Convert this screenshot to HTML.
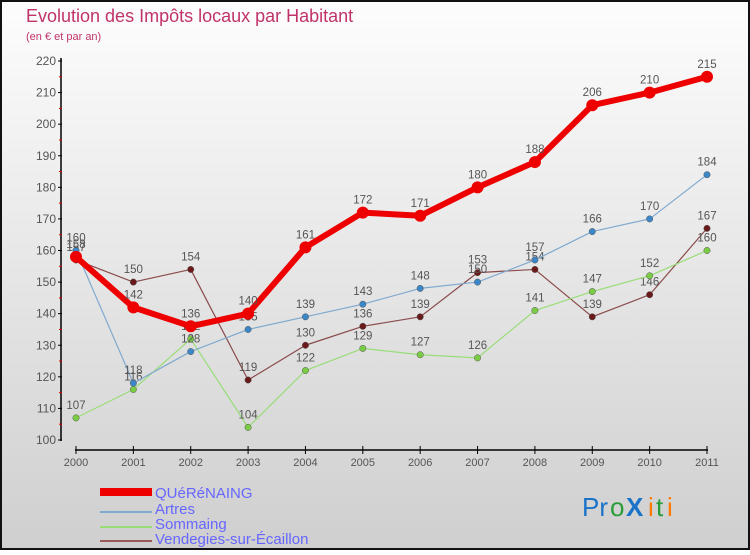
<!DOCTYPE html>
<html><head><meta charset="utf-8"><style>
body{margin:0}
#c{width:750px;height:550px;position:relative;font-family:"Liberation Sans",sans-serif}
</style></head><body>
<div id="c">
<svg id="s" width="750" height="550" xmlns="http://www.w3.org/2000/svg">
<defs><linearGradient id="bg" x1="0" y1="0" x2="0" y2="1"><stop offset="0" stop-color="#fdfdfd"/><stop offset="1" stop-color="#cfcfcf"/></linearGradient></defs>
<rect x="1" y="1" width="748" height="548" fill="url(#bg)" stroke="#111" stroke-width="2"/>
<text x="26" y="22" font-size="18" fill="#c0336a">Evolution des Impôts locaux par Habitant</text>
<text x="26" y="40" font-size="11" fill="#c0336a">(en € et par an)</text>
<g id="axes"></g><g id="series"></g>
<g>
<rect x="100" y="488" width="52" height="8" fill="#e00"/>
<text x="155" y="498" font-size="15" fill="#6666ff">QUéRéNAING</text>
<line x1="100" y1="512" x2="152" y2="512" stroke="#7fa9cf" stroke-width="2"/>
<text x="155" y="514" font-size="15" fill="#6666ff">Artres</text>
<line x1="100" y1="527" x2="152" y2="527" stroke="#99dd77" stroke-width="2"/>
<text x="155" y="529" font-size="15" fill="#6666ff">Sommaing</text>
<line x1="100" y1="541" x2="152" y2="541" stroke="#9a5a5a" stroke-width="2"/>
<text x="155" y="544" font-size="15" fill="#6666ff">Vendegies-sur-Écaillon</text>
</g>
<g font-size="26">
<text x="582" y="516" fill="#1a73c8">Pr</text><text x="610" y="516" fill="#2a9d3a">o</text><text x="626" y="516" fill="#1a73c8" font-weight="bold">X</text><text x="648" y="516" fill="#ff7a00">i</text><text x="656" y="516" fill="#2a9d3a">t</text><text x="667" y="516" fill="#ff7a00">i</text>
</g>
</svg></div>
<script>
const years=[2000,2001,2002,2003,2004,2005,2006,2007,2008,2009,2010,2011];
const yTicks=[100,110,120,130,140,150,160,170,180,190,200,210,220];
const querenaing=[158,142,136,140,161,172,171,180,188,206,210,215];
const artres=[160,118,128,135,139,143,148,150,157,166,170,184];
const sommaing=[107,116,132,104,122,129,127,126,141,147,152,160];
const vendegies=[157,150,154,119,130,136,139,153,154,139,146,167];
const NS="http://www.w3.org/2000/svg";
function X(i){return 76+i*(707-76)/11;}
function Y(v){return 440-(v-100)*(440-61)/120;}
function mk(t,a,p){const e=document.createElementNS(NS,t);for(const k in a)e.setAttribute(k,a[k]);p.appendChild(e);return e;}
const ax=document.getElementById('axes');
let l=mk('line',{x1:61,y1:58,x2:61,y2:441,stroke:'#000','stroke-width':1.5},ax);


yTicks.forEach(v=>{
 mk('line',{x1:58,y1:Y(v),x2:62,y2:Y(v),stroke:'#000'},ax);
 if(v<220)mk('line',{x1:59,y1:Y(v+5),x2:62,y2:Y(v+5),stroke:'#d00'},ax);
 const t=mk('text',{x:56,y:Y(v)+4,'text-anchor':'end','font-size':12,fill:'#555'},ax);
 t.textContent=v;
 
 
});
l=mk('line',{x1:75,y1:450,x2:708,y2:450,stroke:'#000','stroke-width':1.5},ax);


years.forEach((yr,i)=>{
 mk('line',{x1:X(i),y1:446,x2:X(i),y2:454,stroke:'#000'},ax);
 const t=mk('text',{x:X(i),y:466,'text-anchor':'middle','font-size':11,fill:'#555'},ax);
 t.textContent=yr;
 
 
});
const sg=document.getElementById('series');
function draw(vals,name,color,lw,r,fill){
 const g=mk('g',{},sg);
 
 
 const p=mk('polyline',{points:vals.map((v,i)=>X(i)+','+Y(v)).join(' '),fill:'none',stroke:color,'stroke-width':lw,'stroke-linejoin':'round'},g);
 
 
 vals.forEach((v,i)=>{
  const c=mk('circle',{cx:X(i),cy:Y(v),r:r,fill:fill,stroke:lw>3?'none':'#555','stroke-width':0.5},g);
  
  
  const t=mk('text',{x:X(i),y:Y(v)-9,'text-anchor':'middle','font-size':11.5,fill:'#555'},g);
  t.textContent=v;
  
  
 });
}
draw(vendegies,'vendegies','#8a4a4a',1.2,3.2,'#6a1a1a');
draw(sommaing,'sommaing','#99dd77',1.2,3.2,'#7acc44');
draw(artres,'artres','#7fa9cf',1.2,3.2,'#3b87c8');
draw(querenaing,'querenaing','#ee0000',6,6,'#ee0000');
</script>
</body></html>
